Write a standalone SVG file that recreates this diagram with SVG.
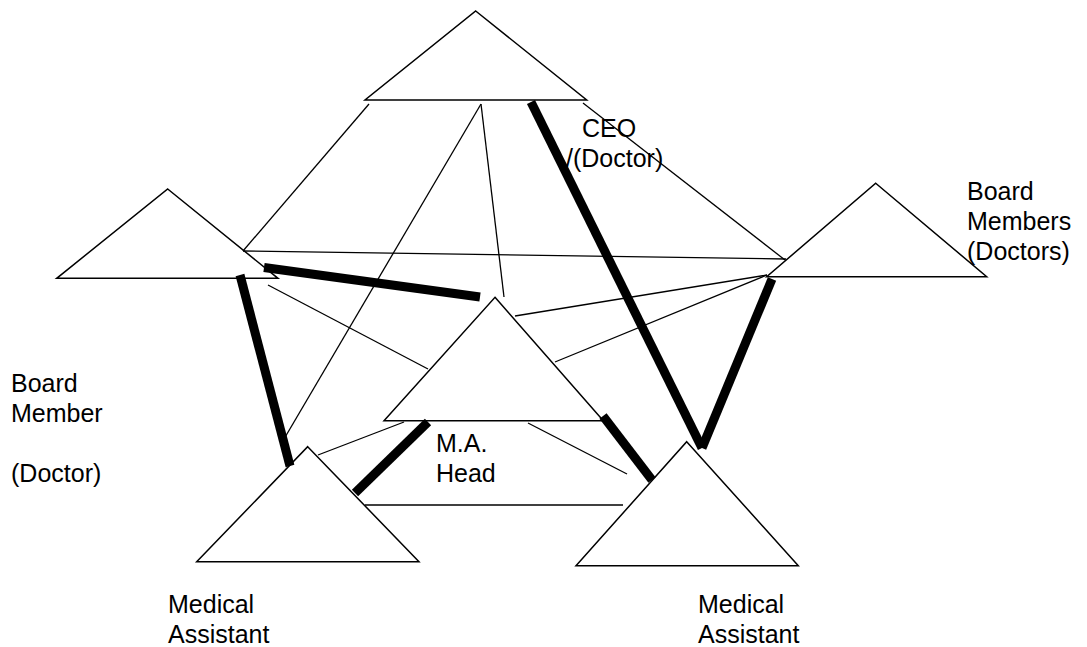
<svg xmlns="http://www.w3.org/2000/svg" width="1087" height="647" viewBox="0 0 1087 647">
<style>
.tri{fill:#fff;stroke:#000;stroke-width:1.5;stroke-linejoin:miter}
.thin{stroke:#000;stroke-width:1.3;fill:none}
.thick{stroke:#000;stroke-width:9;fill:none;stroke-linecap:butt}
.lbl{font-family:"Liberation Sans",Arial,sans-serif;font-size:25px;fill:#000}
</style>
<rect width="1087" height="647" fill="#fff"/>
<g id="ceo">
<polygon class="tri" points="475.7,11 586.7,100 365,100"/>
<text class="lbl" x="582" y="137">CEO</text>
<text class="lbl" x="566" y="167">/(Doctor)</text>
</g>
<g id="board-member-left">
<polygon class="tri" points="167.7,189 278,278.3 56.7,278.3"/>
<text class="lbl" x="11" y="392">Board</text>
<text class="lbl" x="11" y="422">Member</text>
<text class="lbl" x="11" y="482">(Doctor)</text>
</g>
<g id="board-members-right">
<polygon class="tri" points="875.7,183.3 986.7,276.7 766.7,276.7"/>
<text class="lbl" x="967" y="200">Board</text>
<text class="lbl" x="967" y="230">Members</text>
<text class="lbl" x="967" y="260">(Doctors)</text>
</g>
<g id="ma-head">
<polygon class="tri" points="495,297.3 603.3,420.7 384,420.7"/>
<text class="lbl" x="436" y="452">M.A.</text>
<text class="lbl" x="436" y="482">Head</text>
</g>
<g id="medical-assistant-left">
<polygon class="tri" points="307.7,446.7 419,561.7 196.7,561.7"/>
<text class="lbl" x="168" y="613">Medical</text>
<text class="lbl" x="168" y="643">Assistant</text>
</g>
<g id="medical-assistant-right">
<polygon class="tri" points="686.7,441.7 798.3,565.7 576,565.7"/>
<text class="lbl" x="698" y="613">Medical</text>
<text class="lbl" x="698" y="643">Assistant</text>
</g>
<g id="connectors">
<line class="thin" x1="369" y1="104" x2="243" y2="251"/>
<line class="thin" x1="243" y1="251" x2="786" y2="259"/>
<line class="thin" x1="583" y1="103" x2="785" y2="260"/>
<line class="thin" x1="481" y1="104" x2="284" y2="439"/>
<line class="thin" x1="481" y1="104" x2="504" y2="297"/>
<line class="thin" x1="515" y1="316" x2="767" y2="275"/>
<line class="thin" x1="318" y1="455" x2="404" y2="422"/>
<line class="thin" x1="555" y1="362" x2="767" y2="275"/>
<line class="thin" x1="268" y1="285" x2="428" y2="369"/>
<line class="thin" x1="528" y1="423" x2="627" y2="474"/>
<line class="thin" x1="365" y1="505" x2="623" y2="505"/>
<line class="thick" x1="531" y1="102" x2="702" y2="448"/>
<line class="thick" x1="772" y1="279" x2="702" y2="448"/>
<line class="thick" x1="264" y1="267.5" x2="480" y2="297"/>
<line class="thick" x1="240" y1="275" x2="290" y2="466"/>
<line class="thick" x1="355" y1="493" x2="428" y2="422"/>
<line class="thick" x1="603" y1="416" x2="652" y2="480"/>
</g>
</svg>
